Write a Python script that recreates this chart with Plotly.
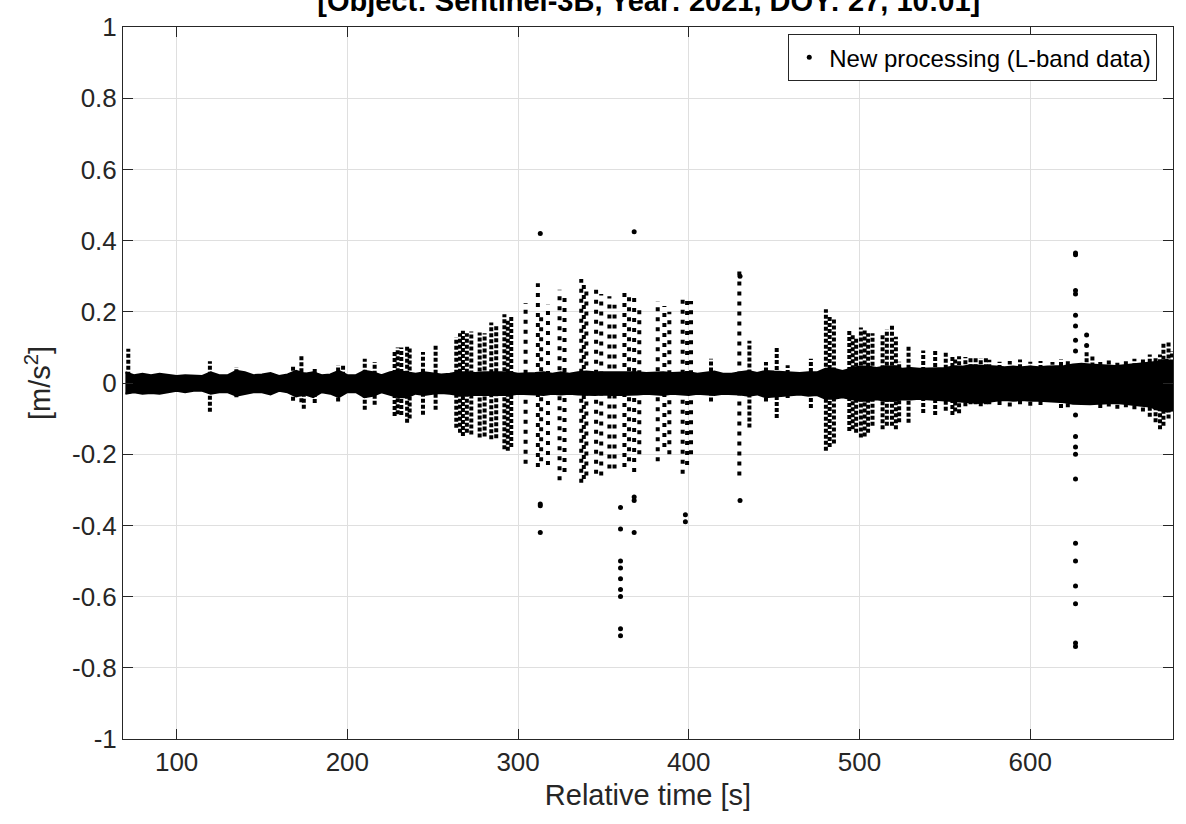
import plotly.graph_objects as go

# ---------------------------------------------------------------------------
# Residual accelerations [m/s^2] vs relative time [s]
# ---------------------------------------------------------------------------

# Envelope of the dense noise band around zero (sampled every 5 s)
band_t = [70, 75, 80, 85, 90, 95, 100, 105, 110, 115, 120, 125, 130, 135, 140,
          145, 150, 155, 160, 165, 170, 175, 180, 185, 190, 195, 200, 205, 210,
          215, 220, 225, 230, 235, 240, 245, 250, 255, 260, 265, 270, 275, 280,
          285, 290, 295, 300, 305, 310, 315, 320, 325, 330, 335, 340, 345, 350,
          355, 360, 365, 370, 375, 380, 385, 390, 395, 400, 405, 410, 415, 420,
          425, 430, 435, 440, 445, 450, 455, 460, 465, 470, 475, 480, 485, 490,
          495, 500, 505, 510, 515, 520, 525, 530, 535, 540, 545, 550, 555, 560,
          565, 570, 575, 580, 585, 590, 595, 600, 605, 610, 615, 620, 625, 630,
          635, 640, 645, 650, 655, 660, 665, 670, 675, 680, 684]
band_hi = [.030, .022, .026, .022, .026, .022, .020, .022, .020, .020, .030, .022,
           .022, .034, .030, .022, .024, .028, .020, .024, .034, .026, .030, .022,
           .024, .034, .022, .022, .034, .030, .022, .030, .034, .030, .026, .030,
           .026, .024, .026, .030, .030, .028, .030, .030, .030, .030, .026, .026,
           .028, .030, .026, .030, .026, .030, .032, .030, .030, .030, .030, .032,
           .030, .028, .030, .030, .028, .030, .030, .026, .030, .032, .026, .026,
           .030, .034, .028, .034, .032, .030, .030, .028, .030, .030, .040, .040,
           .034, .040, .046, .046, .042, .046, .046, .040, .042, .040, .040, .042,
           .042, .046, .046, .050, .050, .048, .046, .044, .046, .044, .046, .044,
           .046, .046, .048, .052, .054, .052, .050, .048, .048, .050, .052, .054,
           .056, .060, .065, .060]
band_lo = [-.030, -.026, -.030, -.028, -.030, -.026, -.022, -.026, -.022, -.022,
           -.030, -.026, -.026, -.036, -.030, -.026, -.026, -.032, -.022, -.026,
           -.038, -.032, -.040, -.026, -.030, -.040, -.026, -.026, -.040, -.036,
           -.026, -.034, -.040, -.040, -.030, -.034, -.030, -.028, -.030, -.034,
           -.034, -.032, -.034, -.034, -.034, -.034, -.030, -.030, -.032, -.034,
           -.030, -.032, -.030, -.032, -.034, -.034, -.032, -.034, -.034, -.034,
           -.032, -.030, -.032, -.034, -.030, -.032, -.034, -.030, -.032, -.034,
           -.030, -.030, -.032, -.036, -.032, -.040, -.036, -.034, -.034, -.032,
           -.036, -.034, -.044, -.044, -.040, -.046, -.050, -.050, -.046, -.050,
           -.050, -.046, -.046, -.044, -.046, -.046, -.048, -.052, -.052, -.054,
           -.056, -.054, -.050, -.048, -.050, -.048, -.050, -.050, -.050, -.052,
           -.054, -.058, -.060, -.060, -.058, -.056, -.056, -.058, -.060, -.064,
           -.066, -.075, -.080, -.075]

# Densely sampled bursts (upper / lower extent of each column)
col_t = [71.7, 119.5, 135.0, 168.2, 173.1, 174.5, 180.9, 194.6, 197.5, 210.2,
         216.0, 227.7, 229.5, 231.6, 235.0, 236.5, 244.3, 251.7, 263.8, 266.0,
         267.7, 270.0, 272.6, 277.5, 280.4, 284.3, 287.2, 292.0, 294.0, 296.0,
         413.0, 435.5, 445.2, 451.5, 457.9, 471.5, 480.3, 482.5, 485.0, 494.0,
         496.0, 498.0, 500.8, 503.0, 505.0, 507.6, 513.5, 516.0, 519.0, 521.3,
         523.2, 528.7, 537.3, 544.3, 550.5, 554.4, 556.0, 558.3, 562.0, 565.0,
         568.0, 571.0, 574.0, 576.0, 582.0, 588.0, 594.0, 600.0, 606.0, 613.0,
         618.0, 622.0, 633.0, 636.4, 641.0, 646.0, 651.0, 656.0, 661.0, 666.0,
         670.0, 673.4, 676.0, 678.0, 681.0, 683.0]
col_hi = [.096, .061, .045, .050, .079, .030, .043, .050, .050, .068,
          .059, .091, .100, .100, .107, .100, .087, .110, .128, .140,
          .147, .140, .145, .142, .140, .170, .165, .193, .180, .190,
          .068, .119, .059, .100, .050, .068, .207, .190, .180, .147,
          .140, .130, .156, .150, .140, .140, .140, .150, .163, .130,
          .060, .105, .091, .091, .085, .075, .070, .075, .073, .070,
          .073, .070, .073, .065, .060, .062, .066, .060, .062, .059,
          .066, .064, .090, .080, .062, .066, .060, .064, .068, .070,
          .080, .070, .080, .110, .115, .090]
col_lo = [-.030, -.081, -.040, -.050, -.054, -.072, -.056, -.052, -.030, -.075,
          -.061, -.093, -.088, -.090, -.112, -.100, -.089, -.075, -.126, -.140,
          -.149, -.140, -.145, -.153, -.150, -.158, -.155, -.186, -.190, -.180,
          -.052, -.125, -.052, -.098, -.042, -.070, -.190, -.180, -.170, -.135,
          -.130, -.140, -.153, -.150, -.140, -.120, -.130, -.120, -.120, -.130,
          -.110, -.112, -.084, -.090, -.078, -.090, -.080, -.085, -.065, -.060,
          -.060, -.065, -.060, -.060, -.062, -.066, -.060, -.064, -.062, -.050,
          -.070, -.068, -.060, -.055, -.070, -.066, -.072, -.068, -.074, -.080,
          -.095, -.110, -.130, -.120, -.100, -.080]

# Sparsely sampled bursts
sp_t = [304.4, 311.6, 313.5, 317.5, 324.3, 327.2, 337.0, 338.5, 340.0, 345.7,
        348.7, 353.5, 356.5, 362.3, 365.0, 368.0, 371.0, 381.8, 385.7, 388.6,
        396.4, 399.0, 401.3, 429.6]
sp_hi = [.225, .280, .200, .220, .262, .250, .292, .280, .270, .272,
         .250, .244, .220, .262, .250, .240, .220, .230, .216, .200,
         .248, .240, .230, .318]
sp_lo = [-.227, -.236, -.220, -.230, -.273, -.250, -.280, -.270, -.260, -.255,
         -.260, -.240, -.240, -.236, -.220, -.250, -.200, -.220, -.180, -.200,
         -.255, -.230, -.200, -.260]

# Isolated outliers
out_t = [313.0, 313.0, 313.0, 313.0,
         360.0, 360.0, 360.0, 360.0, 360.0, 360.0, 360.0, 360.0, 360.0,
         368.0, 368.0, 368.0, 368.0,
         398.0, 398.0,
         430.0, 430.0,
         626.5, 626.5, 626.5, 626.5, 626.5, 626.5, 626.5, 626.5, 626.5, 626.5,
         626.5, 626.5, 626.5, 626.5, 626.5, 626.5, 626.5, 626.5, 626.5,
         633.0, 633.0]
out_y = [0.420, -0.340, -0.345, -0.420,
         -0.350, -0.410, -0.500, -0.520, -0.550, -0.580, -0.600, -0.690, -0.710,
         0.425, -0.320, -0.330, -0.420,
         -0.370, -0.390,
         -0.330, 0.300,
         0.360, 0.365, 0.250, 0.260, 0.190, 0.160, 0.120, 0.090, -0.090, -0.150,
         -0.180, -0.200, -0.270, -0.450, -0.500, -0.570, -0.620, -0.730, -0.740,
         0.135, 0.105]

x_ticks = [100, 200, 300, 400, 500, 600]
y_ticks = [-1, -0.8, -0.6, -0.4, -0.2, 0, 0.2, 0.4, 0.6, 0.8, 1]
y_labels = ["-1", "-0.8", "-0.6", "-0.4", "-0.2", "0", "0.2", "0.4", "0.6", "0.8", "1"]

title_text = "[Object: Sentinel-3B, Year: 2021, DOY: 27, 10:01]"
legend_text = "New processing (L-band data)"

INK = "#000000"
AXIS = "#262626"
FONT = "Liberation Sans, Arial, sans-serif"


def segments(ts, lo, hi):
    xs, ys = [], []
    for t, a, b in zip(ts, lo, hi):
        xs += [t, t, None]
        ys += [a, b, None]
    return xs, ys


fig = go.Figure()

# dense band as a filled envelope
fig.add_trace(go.Scatter(
    x=band_t + band_t[::-1], y=band_hi + band_lo[::-1],
    fill="toself", fillcolor=INK, mode="lines",
    line=dict(color=INK, width=2), hoverinfo="skip", showlegend=False))

cx, cy = segments(col_t, col_lo, col_hi)
fig.add_trace(go.Scatter(x=cx, y=cy, mode="lines",
                         line=dict(color=INK, width=4, dash="4px,2px"),
                         hoverinfo="skip", showlegend=False))

sx, sy = segments(sp_t, sp_lo, sp_hi)
fig.add_trace(go.Scatter(x=sx, y=sy, mode="lines",
                         line=dict(color=INK, width=4, dash="4px,6px"),
                         hoverinfo="skip", showlegend=False))

fig.add_trace(go.Scatter(x=out_t, y=out_y, mode="markers",
                         marker=dict(color=INK, size=5, symbol="circle"),
                         name=legend_text, showlegend=True))

fig.update_layout(
    width=1186, height=824,
    margin=dict(l=123, r=12, t=17, b=85),
    paper_bgcolor="white", plot_bgcolor="white",
    font=dict(family=FONT, size=26, color=AXIS),
    title=dict(text="<b>" + title_text + "</b>", x=0.547, xanchor="center",
               y=0.999, yanchor="middle", yref="container",
               font=dict(family=FONT, size=29, color=INK)),
    legend=dict(x=0.985, xanchor="right", y=0.99, yanchor="top",
                bgcolor="white", bordercolor=AXIS, borderwidth=1,
                font=dict(family=FONT, size=24, color=INK),
                itemsizing="trace", itemwidth=30),
    showlegend=True,
)

fig.update_xaxes(
    range=[68.6, 683.6], tickvals=x_ticks, ticks="inside", ticklen=10,
    tickcolor=AXIS, showline=True, linecolor=AXIS, linewidth=1, mirror="ticks",
    showgrid=True, gridcolor="#dfdfdf", gridwidth=1, zeroline=False,
    tickfont=dict(size=26, color=AXIS),
    title=dict(text="Relative time [s]", font=dict(size=29, color=AXIS), standoff=8),
)
fig.update_yaxes(
    range=[-1, 1], tickvals=y_ticks, ticktext=y_labels, ticks="inside", ticklen=10,
    tickcolor=AXIS, showline=True, linecolor=AXIS, linewidth=1, mirror="ticks",
    showgrid=True, gridcolor="#dfdfdf", gridwidth=1, zeroline=False,
    tickfont=dict(size=26, color=AXIS),
    title=dict(text="[m/s<sup>2</sup>]", font=dict(size=29, color=AXIS), standoff=12),
)

fig.write_html("out.html")
